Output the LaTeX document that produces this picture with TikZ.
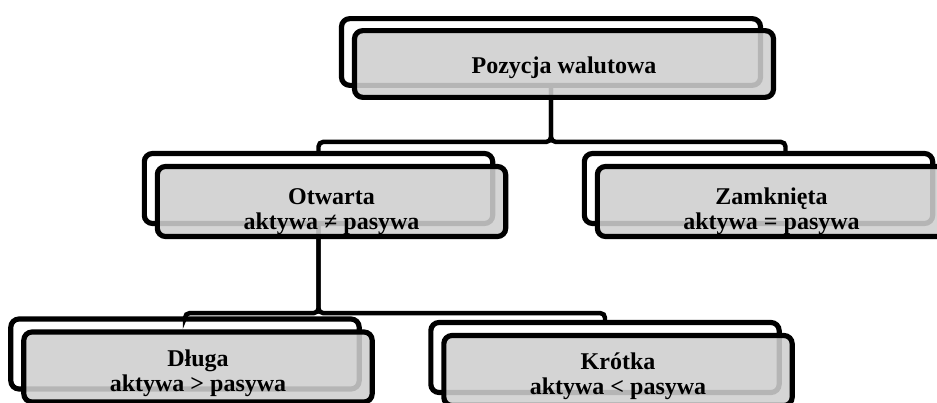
\documentclass[tikz,border=0pt]{standalone}
\usepackage{fontspec}
\setmainfont{Liberation Serif}
\usetikzlibrary{positioning,calc}

\tikzset{
    tile/.style={rectangle, rounded corners=7pt, line width=4.4pt, draw=black,
        minimum width=#1, minimum height=2.1cm, inner sep=0pt},
    tile/.default={10.45cm},
    tileback/.style={tile=#1, fill=white},
    tileback/.default={10.45cm},
    tilefront/.style={tile=#1, fill=black!19, fill opacity=0.88, text opacity=1},
    tilefront/.default={10.45cm},
    ttl/.style={font=\bfseries\fontsize{20.5}{21.5}\selectfont, align=center,
        text opacity=1, yshift=-0.3cm},
    conn/.style={line width=3.8pt, rounded corners=4pt},
}

\begin{document}
\begin{tikzpicture}[x=0.03cm, y=-0.03cm]
\useasboundingbox (0,0) rectangle (937,403);
\clip (0,0) rectangle (937,403);

% back tiles (white, offset up-left)
\node[tileback=12.57cm, minimum height=2.0cm] (posB) at (551,52) {};
\node[tileback] (otwB) at (318.5,188.5) {};
\node[tileback] (zamB) at (758.5,188.5) {};
\node[tileback] (dluB) at (185,354) {};
\node[tileback] (kroB) at (605,357.5) {};

% connectors
\draw[conn] (posB.south) -- ++(0,54) -| (otwB.north);
\draw[conn] (posB.south) -- ++(0,54) -| ($(zamB.north)+(27,0)$);
\draw[conn] (otwB.south) -- ++(0,87) -| (dluB.north);
\draw[conn] (otwB.south) -- ++(0,87) -| (kroB.north);

% front tiles with the texts
\node[tilefront=12.57cm, minimum height=2.0cm,
      label={[ttl, yshift=0.2cm]center:Pozycja walutowa}]
      (pos) at ($(posB)+(13,12)$) {};
\node[tilefront, label={[ttl]center:Otwarta\\aktywa ≠ pasywa}]
      (otw) at ($(otwB)+(13,13)$) {};
\node[tilefront, label={[ttl]center:Zamknięta\\aktywa = pasywa}]
      (zam) at ($(zamB)+(13,13)$) {};
\node[tilefront, label={[ttl, yshift=0.12cm]center:Długa\\aktywa > pasywa}]
      (dlu) at ($(dluB)+(13,13)$) {};
\node[tilefront, label={[ttl, yshift=0.12cm]center:Krótka\\aktywa < pasywa}]
      (kro) at ($(kroB)+(13,13)$) {};

\end{tikzpicture}
\end{document}
